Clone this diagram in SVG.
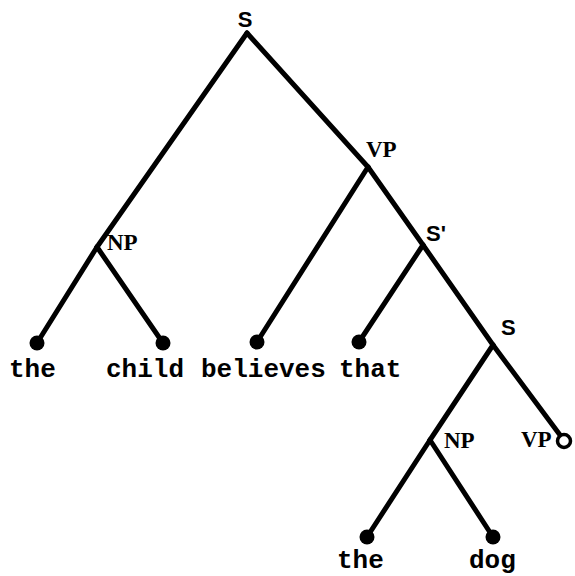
<svg xmlns="http://www.w3.org/2000/svg" width="575" height="576" viewBox="0 0 575 576">
<style>
.e{stroke:#000;stroke-width:5;stroke-linecap:round;fill:none}
.leaf{fill:#000}
.w{font-family:"Liberation Mono",monospace;font-weight:bold;font-size:26px;fill:#000}
.ls{font-family:"Liberation Sans",sans-serif;font-weight:bold;font-size:22px;fill:#000}
.lr{font-family:"Liberation Serif",serif;font-weight:bold;font-size:23px;fill:#000}
</style>
<rect width="575" height="576" fill="#fff"/>
<g id="connectors">
<line class="e" x1="247" y1="33" x2="97" y2="247"/>
<line class="e" x1="97" y1="247" x2="37" y2="343"/>
<line class="e" x1="97" y1="247" x2="163" y2="343"/>
<line class="e" x1="247" y1="33" x2="368" y2="167"/>
<line class="e" x1="368" y1="167" x2="257" y2="342"/>
<line class="e" x1="368" y1="167" x2="423" y2="245"/>
<line class="e" x1="423" y1="245" x2="359" y2="342"/>
<line class="e" x1="423" y1="245" x2="493" y2="345"/>
<line class="e" x1="493" y1="345" x2="430" y2="440"/>
<line class="e" x1="493" y1="345" x2="560" y2="435"/>
<line class="e" x1="430" y1="440" x2="367" y2="537"/>
<line class="e" x1="430" y1="440" x2="493" y2="537"/>
</g>
<g id="S"><text class="ls" x="245" y="27" text-anchor="middle">S</text></g>
<g id="VP"><text class="lr" x="366" y="157">VP</text></g>
<g id="NP1"><text class="lr" x="107" y="250">NP</text></g>
<g id="Sbar"><text class="ls" x="426" y="241">S'</text></g>
<g id="S2"><text class="ls" x="501" y="335">S</text></g>
<g id="NP2"><text class="lr" x="444" y="448">NP</text></g>
<g id="VP2"><text class="lr" x="521" y="447">VP</text><circle cx="564" cy="441" r="6.5" fill="#fff" stroke="#000" stroke-width="3.5"/></g>
<g id="the1"><circle class="leaf" cx="37" cy="343" r="7.5"/><text class="w" x="9" y="377">the</text></g>
<g id="child"><circle class="leaf" cx="163" cy="343" r="7.5"/><text class="w" x="106" y="377">child</text></g>
<g id="believes"><circle class="leaf" cx="257" cy="342" r="7.5"/><text class="w" x="201" y="377">believes</text></g>
<g id="that"><circle class="leaf" cx="359" cy="342" r="7.5"/><text class="w" x="339" y="377">that</text></g>
<g id="the2"><circle class="leaf" cx="367" cy="537" r="7.5"/><text class="w" x="337" y="568">the</text></g>
<g id="dog"><circle class="leaf" cx="493" cy="537" r="7.5"/><text class="w" x="469" y="568">dog</text></g>
</svg>
